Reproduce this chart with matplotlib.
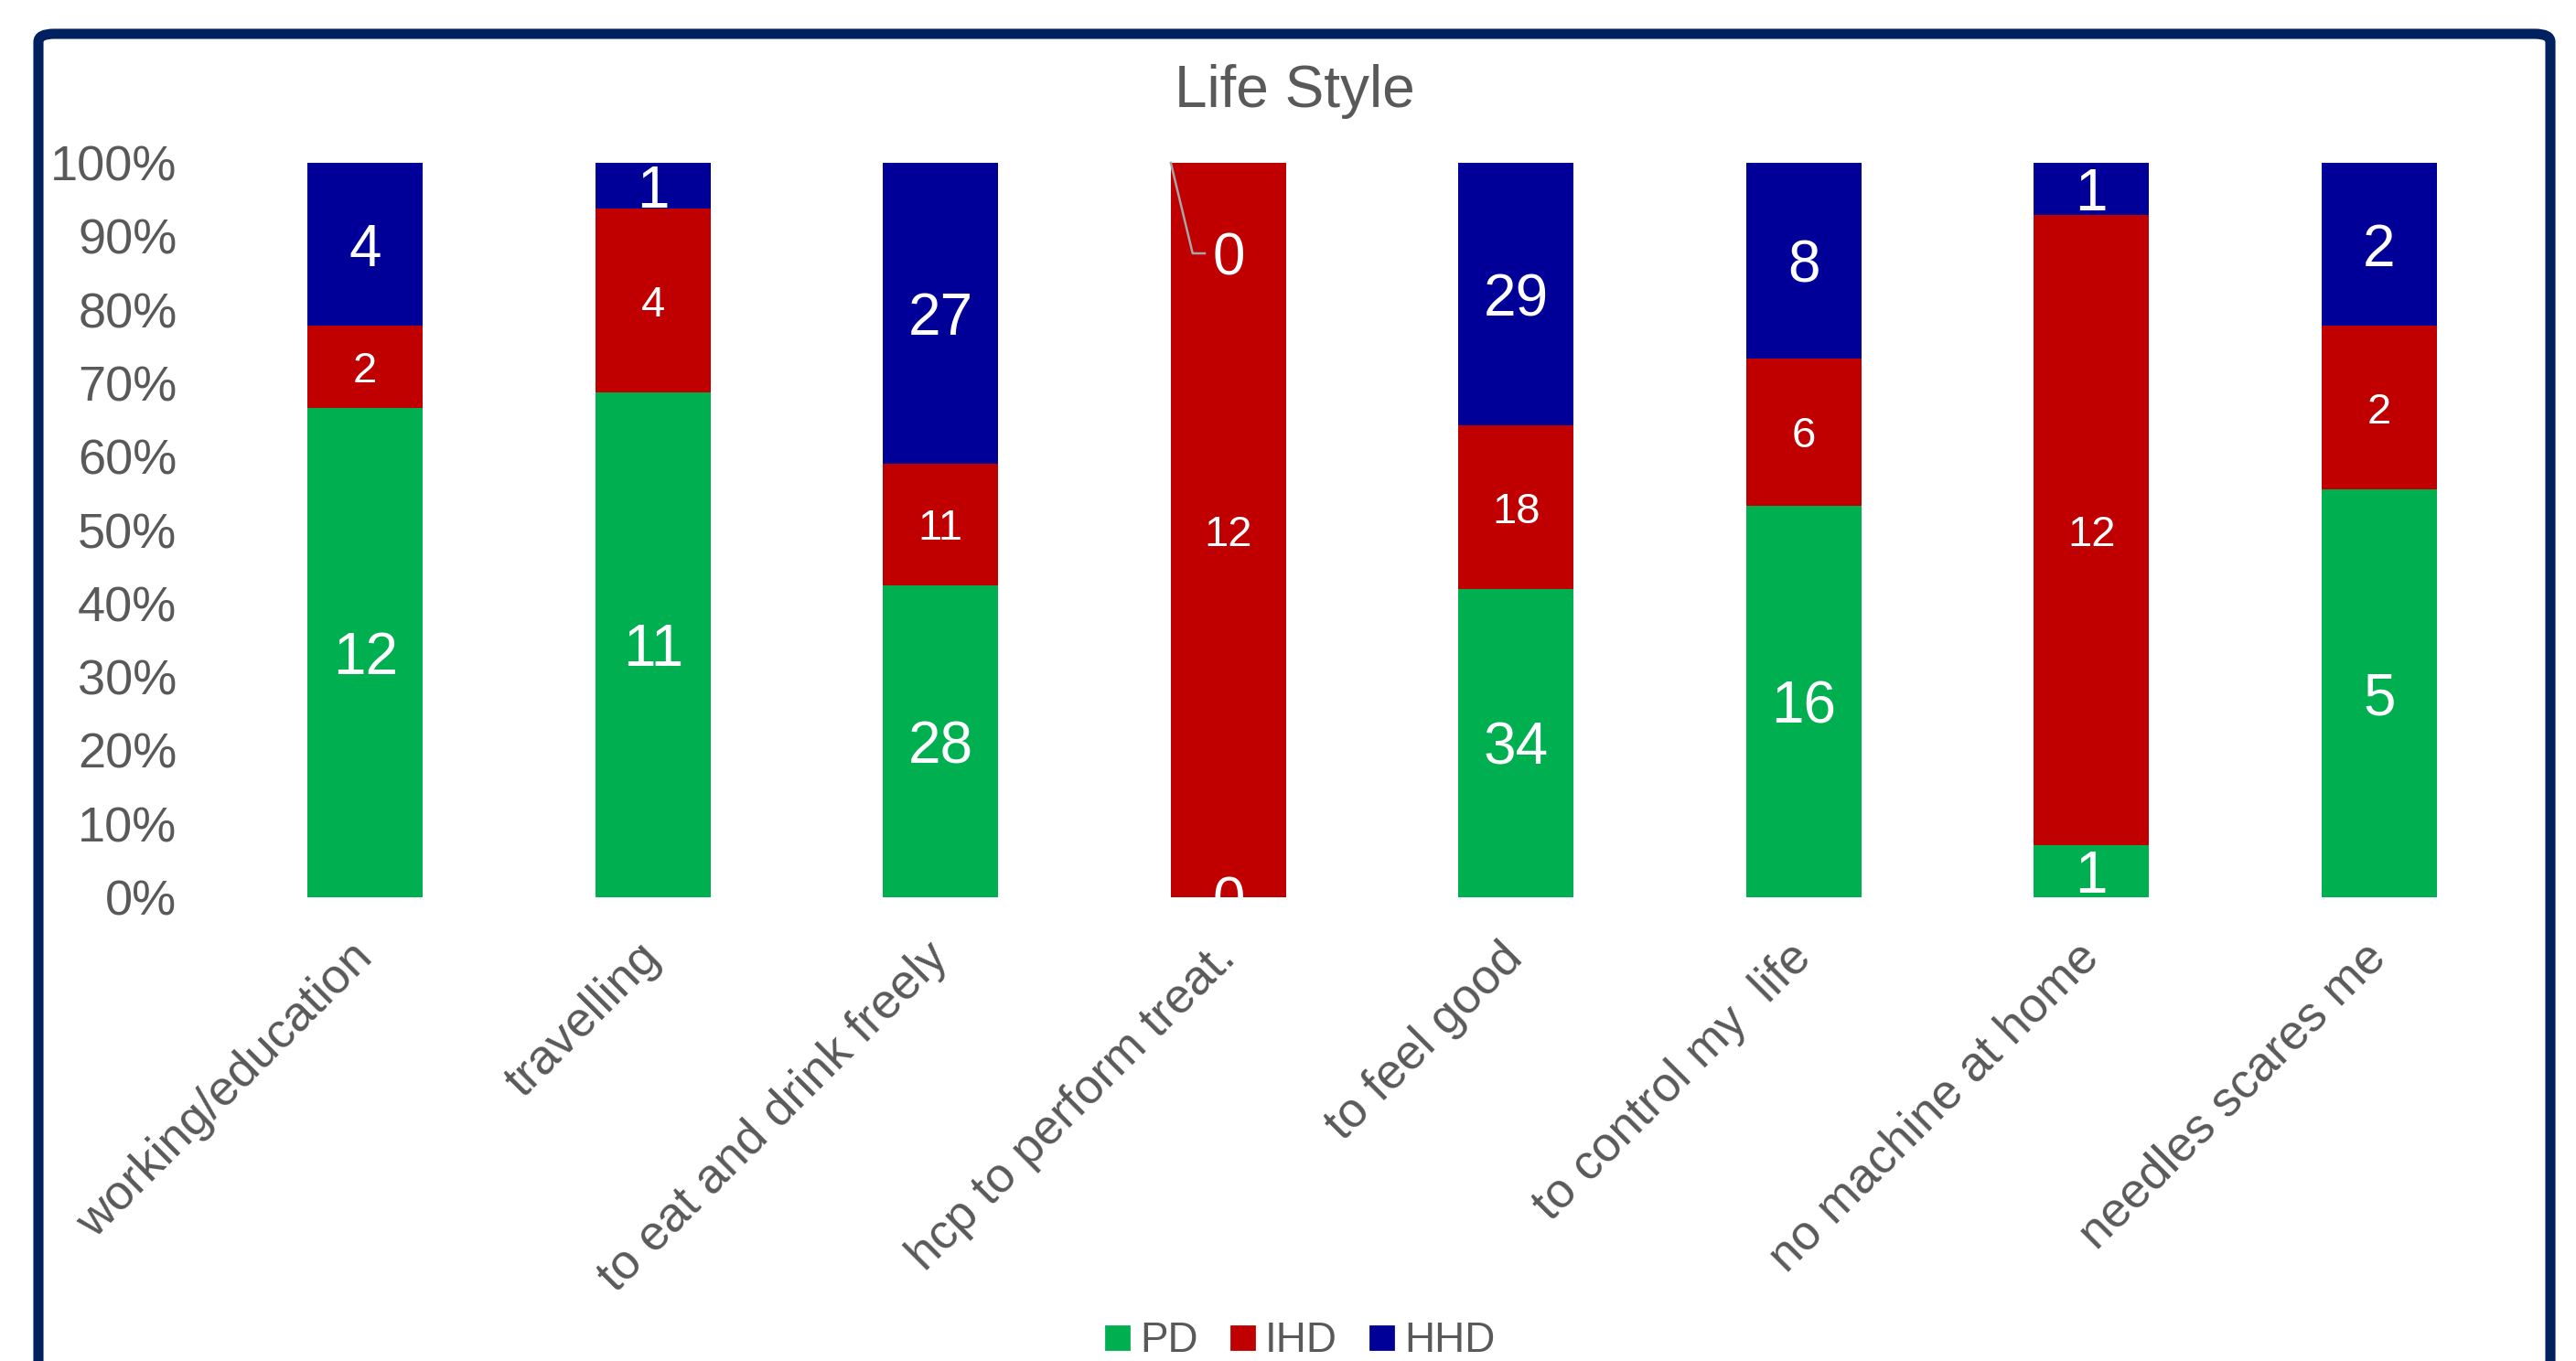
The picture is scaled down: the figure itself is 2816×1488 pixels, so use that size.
import matplotlib
matplotlib.use("Agg")
import matplotlib.pyplot as plt
from matplotlib.patches import FancyBboxPatch
from matplotlib.lines import Line2D
import numpy as np

plt.rcParams['font.family'] = ['Liberation Sans', 'DejaVu Sans']

categories = ["working/education", "travelling", "to eat and drink freely",
              "hcp to perform treat.", "to feel good", "to control my  life",
              "no machine at home", "needles scares me"]
pd_vals = [12, 11, 28, 0, 34, 16, 1, 5]
ihd_vals = [2, 4, 11, 12, 18, 6, 12, 2]
hhd_vals = [4, 1, 27, 0, 29, 8, 1, 2]
series_names = ["PD", "IHD", "HHD"]
yticks = [0, 10, 20, 30, 40, 50, 60, 70, 80, 90, 100]

colors = ["#00B050", "#C00000", "#000099"]
label_sizes = [23, 17, 23]
gray = "#595959"

W, H, DPI = 2816, 1488, 200
fig = plt.figure(figsize=(W / DPI, H / DPI), dpi=DPI)

# border
border = FancyBboxPatch((42 / W, -0.05), (2788 - 42) / W, (1 - 37 / H) + 0.05,
                        boxstyle="round,pad=0,rounding_size=0.006",
                        transform=fig.transFigure, fill=False,
                        edgecolor="#002060", linewidth=4.0, zorder=10)
fig.patches.append(border)

ax = fig.add_axes([242 / W, 1 - 981 / H, (2758 - 242) / W, (981 - 178) / H])

data = np.array([pd_vals, ihd_vals, hhd_vals], dtype=float)
totals = data.sum(axis=0)
pct = data / totals * 100
x = np.arange(len(categories))
bottom = np.zeros(len(categories))
width = 0.4
for i in range(3):
    ax.bar(x, pct[i], width, bottom=bottom, color=colors[i], label=series_names[i],
           edgecolor="none", zorder=2)
    for j in range(len(categories)):
        if categories[j].startswith("hcp") and i == 2:
            continue
        yc = bottom[j] + pct[i][j] / 2
        ax.text(x[j], yc, f"{int(data[i][j])}", ha="center", va="center_baseline",
                color="white", fontsize=label_sizes[i], zorder=3)
    bottom += pct[i]

# hcp HHD zero label with leader line
j = categories.index("hcp to perform treat.")
yl = 100 - (277 - 178) / (981 - 178) * 100
ax.text(x[j], yl, "0", ha="center", va="center_baseline", color="white",
        fontsize=23, zorder=4)
ax.plot([x[j] - width / 2, x[j] - width / 2 + 0.076, x[j] - width / 2 + 0.118],
        [100, yl, yl], color="#A6A6A6", lw=0.9, zorder=4, clip_on=False)

ax.set_xlim(-0.5, len(categories) - 0.5)
ax.set_ylim(0, 100)
ax.set_yticks(yticks)
ax.set_yticklabels([f"{v}%" for v in yticks])
ax.set_xticks(x)
ax.set_xticklabels(categories, rotation=45, ha="right", va="center",
                   rotation_mode="anchor")
for s in ax.spines.values():
    s.set_visible(False)
ax.tick_params(axis="both", length=0, colors=gray)
ax.tick_params(axis="x", pad=21, labelsize=19.3)
ax.tick_params(axis="y", pad=17.5, labelsize=19.5)

fig.text(1415 / W, 1 - 117 / H, "Life Style", ha="center", va="baseline",
         fontsize=23, color=gray)

handles = [Line2D([], [], marker="s", linestyle="none", markersize=9,
                  markerfacecolor=c, markeredgecolor=c) for c in colors]
fig.legend(handles, series_names, loc="center", bbox_to_anchor=(1421 / W, 1 - 1466 / H),
           ncol=3, frameon=False, fontsize=16.5, labelcolor=gray,
           handletextpad=0.25, columnspacing=0.75, handlelength=0.6,
           borderpad=0, borderaxespad=0)

fig.savefig("out.png", dpi=DPI)
